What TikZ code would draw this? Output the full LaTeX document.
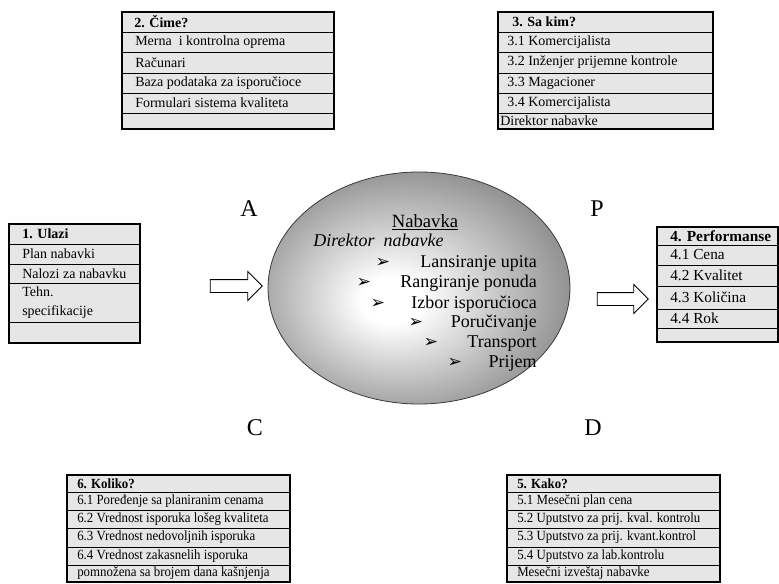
\documentclass[tikz,border=0pt]{standalone}
\usepackage{fontspec}
\setmainfont{Liberation Serif}
\newfontfamily\condfont[FakeStretch=0.92]{Liberation Serif}
\newfontfamily\dingfont{DejaVu Sans}
\usetikzlibrary{shapes.geometric,shapes.arrows,fit,calc}
\pgfdeclareradialshading{ellshade}{\pgfpoint{-5bp}{-3bp}}{color(0bp)=(white); color(5bp)=(white); color(27bp)=(gray!84); color(50bp)=(gray!84)}
\definecolor{boxfill}{RGB}{230,230,230}
\newcommand\tabrow[7]{%
  \node[cell, minimum width=#4*0.75pt, minimum height=#5*0.75pt] (#1) at (#2,#3) {};
  \node[celltext] (#1t) at ([xshift=#6*0.75pt]#1.west) {#7};}
\begin{document}
\begin{tikzpicture}[x=0.75pt,y=-0.75pt,
  cell/.style={draw, fill=boxfill, line width=0.6pt, anchor=north west, inner sep=0pt, outer sep=0pt},
  celltext/.style={anchor=west, inner sep=0pt, align=left},
  outerbox/.style={draw, line width=1.3pt, inner sep=0pt},
  bul/.style={font=\dingfont\fontsize{13}{14}\selectfont, inner sep=0pt},
  elltext/.style={font=\fontsize{13.5}{16}\selectfont, inner sep=0pt, anchor=base east},
  letter/.style={font=\fontsize{18}{20}\selectfont, inner sep=0pt},
  blockarrow/.style={single arrow, draw, fill=white, line width=0.6pt, inner xsep=0pt, inner ysep=4.5pt, single arrow head extend=6pt, outer sep=0pt}]
\useasboundingbox (0,0) rectangle (779,583);

% Box 2
\begin{scope}[celltext/.append style={font=\fontsize{10.5}{13}\selectfont}]
\tabrow{b2r0}{122}{12}{212}{20}{12}{\bfseries 2. Čime?}
\tabrow{b2r1}{122}{32}{212}{20}{13}{Merna\ \ i kontrolna oprema}
\tabrow{b2r2}{122}{52}{212}{21}{13}{Računari}
\tabrow{b2r3}{122}{73}{212}{20}{13}{Baza podataka za isporučioce}
\tabrow{b2r4}{122}{93}{212}{20}{13}{Formulari sistema kvaliteta}
\tabrow{b2r5}{122}{113}{212}{16}{13}{}
\end{scope}
\node[outerbox, fit=(b2r0)(b2r5)] (box2) {};

% Box 3
\begin{scope}[celltext/.append style={font=\fontsize{10.5}{13}\selectfont}]
\tabrow{b3r0}{498}{12}{215}{20}{14}{\bfseries 3. Sa kim?}
\tabrow{b3r1}{498}{32}{215}{20}{9}{3.1 Komercijalista}
\tabrow{b3r2}{498}{52}{215}{21}{9}{3.2 Inženjer prijemne kontrole}
\tabrow{b3r3}{498}{73}{215}{20}{9}{3.3 Magacioner}
\tabrow{b3r4}{498}{93}{215}{20}{9}{3.4 Komercijalista}
\tabrow{b3r5}{498}{113}{215}{16}{2}{Direktor nabavke}
\end{scope}
\node[outerbox, fit=(b3r0)(b3r5)] (box3) {};

% Box 1
\begin{scope}[celltext/.append style={font=\fontsize{10.5}{14}\selectfont}]
\tabrow{b1r0}{9}{224}{131}{20}{13}{\bfseries 1. Ulazi}
\tabrow{b1r1}{9}{244}{131}{20}{13}{Plan nabavki}
\tabrow{b1r2}{9}{264}{131}{19}{13}{Nalozi za nabavku}
\tabrow{b1r3}{9}{283}{131}{39}{13}{Tehn.\\specifikacije}
\tabrow{b1r4}{9}{322}{131}{21}{13}{}
\end{scope}
\node[outerbox, fit=(b1r0)(b1r4)] (box1) {};

% Box 4
\begin{scope}[celltext/.append style={font=\fontsize{11.5}{14}\selectfont}]
\tabrow{b4r0}{657}{227}{121}{18}{13}{\bfseries 4. Performanse}
\tabrow{b4r1}{657}{245}{121}{20}{13}{4.1 Cena}
\tabrow{b4r2}{657}{265}{121}{21}{13}{4.2 Kvalitet}
\tabrow{b4r3}{657}{286}{121}{23}{13}{4.3 Količina}
\tabrow{b4r4}{657}{309}{121}{19}{13}{4.4 Rok}
\tabrow{b4r5}{657}{328}{121}{14}{13}{}
\end{scope}
\node[outerbox, fit=(b4r0)(b4r5)] (box4) {};

% Box 6
\begin{scope}[celltext/.append style={font=\condfont\fontsize{10.5}{13}\selectfont}]
\tabrow{b6r0}{67}{475}{223}{17}{10}{\bfseries 6. Koliko?}
\tabrow{b6r1}{67}{492}{223}{18}{10}{6.1 Poređenje sa planiranim cenama}
\tabrow{b6r2}{67}{510}{223}{18}{10}{6.2 Vrednost isporuka lošeg kvaliteta}
\tabrow{b6r3}{67}{528}{223}{19}{10}{6.3 Vrednost nedovoljnih isporuka}
\tabrow{b6r4}{67}{547}{223}{18}{10}{6.4 Vrednost zakasnelih isporuka}
\tabrow{b6r5}{67}{565}{223}{17}{10}{pomnožena sa brojem dana kašnjenja}
\end{scope}
\node[outerbox, fit=(b6r0)(b6r5)] (box6) {};

% Box 5
\begin{scope}[celltext/.append style={font=\condfont\fontsize{10.5}{13}\selectfont}]
\tabrow{b5r0}{507}{475}{213}{17}{10}{\bfseries 5. Kako?}
\tabrow{b5r1}{507}{492}{213}{18}{10}{5.1 Mesečni plan cena}
\tabrow{b5r2}{507}{510}{213}{18}{10}{5.2 Uputstvo za prij. kval. kontrolu}
\tabrow{b5r3}{507}{528}{213}{19}{10}{5.3 Uputstvo za prij. kvant.kontrol}
\tabrow{b5r4}{507}{547}{213}{18}{10}{5.4 Uputstvo za lab.kontrolu}
\tabrow{b5r5}{507}{565}{213}{17}{10}{Mesečni izveštaj nabavke}
\end{scope}
\node[outerbox, fit=(b5r0)(b5r5)] (box5) {};

% Central ellipse
\node[ellipse, minimum width=302*0.75pt, minimum height=232*0.75pt, shade, shading=ellshade, draw=gray!45!black, line width=0.6pt, inner sep=0pt] (nab) at (419,288) {};
\node[font=\fontsize{14}{16}\selectfont, anchor=base, inner sep=0pt] (title) at (425,227) {\underline{Nabavka}};
\node[font=\itshape\fontsize{13.5}{16}\selectfont, anchor=base west, inner sep=0pt] (dir) at (313,246) {Direktor\ \ nabavke};
\node[elltext] (it1) at (537,267) {Lansiranje upita};
\node[elltext] (it2) at (537,287) {Rangiranje ponuda};
\node[elltext] (it3) at (537,308) {Izbor isporučioca};
\node[elltext] (it4) at (537,327) {Poručivanje};
\node[elltext] (it5) at (537,347) {Transport};
\node[elltext] (it6) at (537,367) {Prijem};
\node[bul] (bu1) at (383,263) {➢};
\node[bul] (bu2) at (364,283) {➢};
\node[bul] (bu3) at (378,304) {➢};
\node[bul] (bu4) at (416,323) {➢};
\node[bul] (bu5) at (431,343) {➢};
\node[bul] (bu6) at (455,363) {➢};

% Letters
\node[letter] (lA) at (249,209) {A};
\node[letter] (lP) at (597,209) {P};
\node[letter] (lC) at (255,428) {C};
\node[letter] (lD) at (593,428) {D};

% Block arrows
\node[blockarrow, minimum height=52*0.75pt] (ain) at (233,286) {};
\node[blockarrow, minimum height=51*0.75pt] (aout) at (619.5,299) {};
\end{tikzpicture}
\end{document}
